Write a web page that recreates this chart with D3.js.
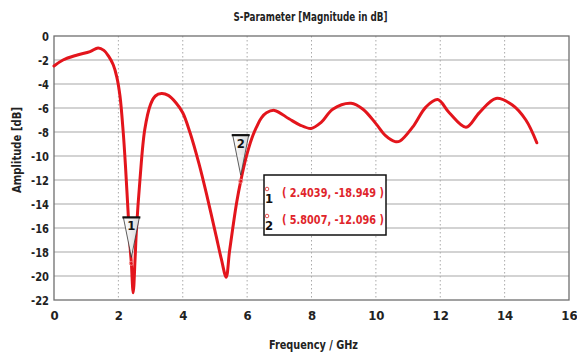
<!DOCTYPE html>
<html>
<head>
<meta charset="utf-8">
<script src="https://cdn.jsdelivr.net/npm/d3@7"></script>
<style>
  html, body { margin: 0; padding: 0; background: #fff; }
  svg { display: block; }
  .lbl { font-family: "Liberation Sans Narrow", "DejaVu Sans Condensed", sans-serif; font-weight: bold; }
  .val { font-family: "Liberation Sans Narrow", "DejaVu Sans Condensed", sans-serif; font-weight: 600; }
</style>
</head>
<body>
<svg id="chart" width="577" height="356"></svg>
<script>
// S11 sweep: frequency (GHz) and magnitude (dB)
const freq = [0.0, 0.28, 0.7, 1.12, 1.37, 1.55, 1.7, 1.84, 1.95, 2.05, 2.15, 2.22, 2.3, 2.37, 2.4039, 2.46, 2.52, 2.56, 2.67, 2.82, 3.0, 3.15, 3.34, 3.55, 3.8, 4.0, 4.22, 4.5, 4.75, 5.04, 5.2, 5.35, 5.45, 5.56, 5.68, 5.8007, 5.97, 6.15, 6.29, 6.45, 6.6, 6.85, 7.3, 7.63, 7.99, 8.3, 8.66, 9.23, 9.6, 10.0, 10.3, 10.6, 10.75, 11.14, 11.56, 11.92, 12.28, 12.8, 13.21, 13.73, 14.24, 14.66, 15.0];
const mag  = [-2.5, -2.0, -1.6, -1.3, -1.0, -1.2, -1.7, -2.4, -3.4, -5.0, -8.0, -10.8, -14.6, -17.8, -18.949, -21.4, -18.5, -16.2, -12.0, -7.8, -5.7, -5.0, -4.8, -4.95, -5.6, -6.4, -8.0, -10.6, -13.3, -16.7, -18.6, -20.1, -18.0, -15.9, -13.8, -12.096, -10.1, -8.5, -7.6, -6.8, -6.4, -6.2, -6.9, -7.4, -7.7, -7.2, -6.1, -5.6, -6.1, -7.3, -8.3, -8.8, -8.75, -7.6, -5.9, -5.3, -6.4, -7.6, -6.4, -5.2, -5.75, -7.0, -8.9];

// Markers
const markerIds  = ["1", "2"];
const markerFreq = [2.4039, 5.8007];
const markerMag  = [-18.949, -12.096];

// Axis ticks
const xTicks = [0, 2, 4, 6, 8, 10, 12, 14, 16];
const yTicks = [0, -2, -4, -6, -8, -10, -12, -14, -16, -18, -20, -22];

const titleText = "S-Parameter [Magnitude in dB]";
const xTitle = "Frequency / GHz";
const yTitle = "Amplitude [dB]";

const svg = d3.select("#chart");
const L = 54, R = 569, T = 36, B = 300;

const x = d3.scaleLinear().domain([0, 16]).range([L, R]);
const y = d3.scaleLinear().domain([0, -22]).range([T, B]);

// grid
const g = svg.append("g");
g.selectAll("line.hg").data(yTicks.slice(1, -1)).join("line")
  .attr("x1", L).attr("x2", R)
  .attr("y1", d => y(d)).attr("y2", d => y(d))
  .attr("stroke", "#a8a8a8").attr("stroke-width", 1.2);
g.selectAll("line.vg").data(xTicks.slice(1, -1)).join("line")
  .attr("y1", T).attr("y2", B)
  .attr("x1", d => x(d)).attr("x2", d => x(d))
  .attr("stroke", "#aaaaaa").attr("stroke-width", 1).attr("stroke-dasharray", "1.5,2.5");

// frame
svg.append("rect").attr("x", L).attr("y", T).attr("width", R - L).attr("height", B - T)
  .attr("fill", "none").attr("stroke", "#6f6f6f").attr("stroke-width", 1.3);

// axes
const xAxis = d3.axisBottom(x).tickValues(xTicks).tickSize(0).tickPadding(11).tickFormat(d3.format("d"));
const yAxis = d3.axisLeft(y).tickValues(yTicks).tickSize(0).tickPadding(5).tickFormat(d => d === 0 ? "0" : "-" + Math.abs(d));
const gx = svg.append("g").attr("transform", `translate(0,${B})`).call(xAxis);
const gy = svg.append("g").attr("transform", `translate(${L},0)`).call(yAxis);
[gx, gy].forEach(a => {
  a.select(".domain").remove();
  a.selectAll("text").attr("class", "lbl").attr("font-size", 13).attr("fill", "#222");
});
gy.selectAll("text").each(function () {
  const t = d3.select(this);
  t.attr("textLength", this.getComputedTextLength() * 0.85).attr("lengthAdjust", "spacingAndGlyphs");
});

// titles
svg.append("text").attr("class", "lbl").attr("x", (L + R) / 2 - 1).attr("y", 21)
  .attr("text-anchor", "middle").attr("font-size", 12.5).attr("fill", "#222")
  .attr("textLength", 154).attr("lengthAdjust", "spacingAndGlyphs").text(titleText);
svg.append("text").attr("class", "lbl").attr("x", (L + R) / 2 + 2).attr("y", 349)
  .attr("text-anchor", "middle").attr("font-size", 12.5).attr("fill", "#222")
  .attr("textLength", 89).attr("lengthAdjust", "spacingAndGlyphs").text(xTitle);
svg.append("text").attr("class", "lbl")
  .attr("transform", `translate(21,150) rotate(-90)`)
  .attr("text-anchor", "middle").attr("font-size", 12.5).attr("fill", "#222")
  .attr("textLength", 86).attr("lengthAdjust", "spacingAndGlyphs").text(yTitle);

// curve
const pts = freq.map((f, i) => [f, mag[i]]);
const line = d3.line().x(d => x(d[0])).y(d => y(d[1])).curve(d3.curveCatmullRom.alpha(0.5));
svg.append("path").datum(pts).attr("d", line)
  .attr("fill", "none").attr("stroke", "#e3151c").attr("stroke-width", 3)
  .attr("stroke-linejoin", "round").attr("stroke-linecap", "round");

// markers
const grad = svg.append("defs").append("linearGradient").attr("id", "tri").attr("x1", 0).attr("x2", 1);
grad.append("stop").attr("offset", "0%").attr("stop-color", "#ffffff");
grad.append("stop").attr("offset", "100%").attr("stop-color", "#d9d9d9");

markerIds.forEach((id, i) => {
  const mx = x(markerFreq[i]), my = y(markerMag[i]);
  const top = my - 46, tip = my - 6, hw = 8;
  svg.append("path")
    .attr("d", `M${mx - hw},${top} L${mx + hw},${top} L${mx},${tip} Z`)
    .attr("fill", "url(#tri)").attr("stroke", "#333").attr("stroke-width", 0.8);
  svg.append("line").attr("x1", mx - hw - 1).attr("x2", mx + hw + 1).attr("y1", top).attr("y2", top)
    .attr("stroke", "#111").attr("stroke-width", 2.2);
  svg.append("text").attr("class", "lbl").attr("x", mx).attr("y", top + 13)
    .attr("text-anchor", "middle").attr("font-size", 13).attr("fill", "#111").text(id);
  svg.append("circle").attr("cx", mx).attr("cy", my).attr("r", 2)
    .attr("fill", "none").attr("stroke", "#f08080").attr("stroke-width", 1);
});

// marker readout box
const bx = 264, by = 175, bw = 122, bh = 60;
svg.append("rect").attr("x", bx).attr("y", by).attr("width", bw).attr("height", bh)
  .attr("fill", "#fff").attr("stroke", "#111").attr("stroke-width", 1.5);
markerIds.forEach((id, i) => {
  const cy = by + 18 + i * 27;
  svg.append("circle").attr("cx", bx + 3).attr("cy", cy - 4).attr("r", 1.8)
    .attr("fill", "none").attr("stroke", "#e35050").attr("stroke-width", 1);
  svg.append("text").attr("class", "lbl").attr("x", bx + 5).attr("y", cy + 10)
    .attr("text-anchor", "middle").attr("font-size", 13).attr("fill", "#111").text(id);
  svg.append("text").attr("class", "val").attr("x", bx + 18).attr("y", cy + 4)
    .attr("font-size", 13).attr("fill", "#e0252b")
    .attr("textLength", 102).attr("lengthAdjust", "spacingAndGlyphs")
    .text(`( ${markerFreq[i].toFixed(4)}, ${markerMag[i].toFixed(3)} )`);
});
</script>
</body>
</html>
